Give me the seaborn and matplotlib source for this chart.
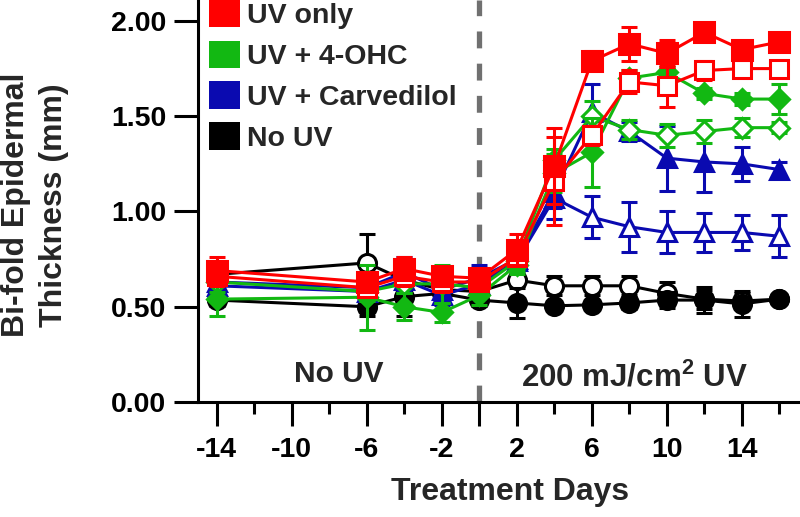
import matplotlib
matplotlib.use("Agg")
import matplotlib.pyplot as plt
import seaborn as sns
from matplotlib.patches import Patch

# Data (mean +/- error)
days = [-14, -6, -4, -2, 0, 2, 4, 6, 8, 10, 12, 14, 16]

uv_only = [0.69, 0.63, 0.70, 0.66, 0.65, 0.80, 1.24, 1.79, 1.88, 1.83, 1.94, 1.85, 1.89]
uv_only_err = [0.07, 0.05, 0.06, 0.05, 0.05, 0.08, 0.20, 0.05, 0.09, 0.07, 0.02, 0.03, 0.03]
uv_only_b = [0.66, 0.60, 0.66, 0.63, 0.63, 0.76, 1.16, 1.40, 1.68, 1.66, 1.74, 1.75, 1.75]
uv_only_b_err = [0.05, 0.05, 0.05, 0.05, 0.04, 0.04, 0.23, 0.05, 0.06, 0.11, 0.05, 0.04, 0.04]

ohc = [0.54, 0.55, 0.50, 0.47, 0.56, 0.72, 1.20, 1.31, 1.70, 1.73, 1.62, 1.59, 1.59]
ohc_err = [0.09, 0.17, 0.07, 0.05, 0.05, 0.05, 0.10, 0.18, 0.04, 0.03, 0.03, 0.03, 0.08]
ohc_b = [0.63, 0.58, 0.62, 0.62, 0.60, 0.74, 1.27, 1.50, 1.43, 1.40, 1.42, 1.44, 1.44]
ohc_b_err = [0.05, 0.05, 0.05, 0.10, 0.05, 0.05, 0.06, 0.08, 0.05, 0.06, 0.06, 0.05, 0.03]

carv = [0.63, 0.60, 0.68, 0.59, 0.65, 0.75, 1.10, 1.52, 1.42, 1.28, 1.26, 1.25, 1.22]
carv_err = [0.04, 0.05, 0.08, 0.06, 0.07, 0.05, 0.08, 0.15, 0.05, 0.17, 0.16, 0.09, 0.04]
carv_b = [0.61, 0.58, 0.64, 0.56, 0.62, 0.74, 1.07, 0.97, 0.92, 0.89, 0.89, 0.89, 0.87]
carv_b_err = [0.04, 0.04, 0.05, 0.05, 0.05, 0.05, 0.11, 0.11, 0.13, 0.11, 0.10, 0.09, 0.11]

no_uv = [0.535, 0.50, 0.553, 0.57, 0.535, 0.52, 0.505, 0.51, 0.52, 0.535, 0.535, 0.515, 0.54]
no_uv_err = [0.03, 0.05, 0.10, 0.04, 0.03, 0.08, 0.02, 0.02, 0.03, 0.04, 0.07, 0.07, 0.02]
no_uv_b = [0.67, 0.73, 0.64, 0.59, 0.58, 0.64, 0.61, 0.61, 0.61, 0.57, 0.54, 0.53, 0.54]
no_uv_b_err = [0.03, 0.15, 0.05, 0.04, 0.04, 0.03, 0.05, 0.05, 0.05, 0.06, 0.05, 0.04, 0.02]

legend_labels = ["UV only", "UV + 4-OHC", "UV + Carvedilol", "No UV"]
RED, GREEN, BLUE, BLACK = "#ff0000", "#12b812", "#0a0ab0", "#000000"

sns.set_theme(style="ticks")
plt.rcParams["font.family"] = ["Liberation Sans", "DejaVu Sans"]
plt.rcParams["font.weight"] = "bold"
plt.rcParams["mathtext.fontset"] = "custom"
plt.rcParams["mathtext.rm"] = "Liberation Sans:bold"
plt.rcParams["mathtext.bf"] = "Liberation Sans:bold"

fig = plt.figure(figsize=(8, 5.17), dpi=100)
ax = fig.add_axes([0.2475, 0.2224, 0.7525, 0.7776])

# vertical divider at day 0
ax.axvline(0, color="#707070", lw=3.8, linestyle=(0, (3.2, 2.9)), zorder=1)

# (values, errors, color, marker, filled, marker size)
series = [
    (no_uv_b, no_uv_b_err, BLACK, "o", False, 13),
    (no_uv, no_uv_err, BLACK, "o", True, 13),
    (carv_b, carv_b_err, BLUE, "^", False, 13),
    (carv, carv_err, BLUE, "^", True, 13),
    (ohc_b, ohc_b_err, GREEN, "D", False, 10.5),
    (ohc, ohc_err, GREEN, "D", True, 10.5),
    (uv_only_b, uv_only_b_err, RED, "s", False, 13),
    (uv_only, uv_only_err, RED, "s", True, 14),
]

z = 2
for vals, err, col, mk, filled, ms in series:
    ax.errorbar(days, vals, yerr=err, fmt="none", ecolor=col, elinewidth=2.2,
                capsize=6, capthick=2.2, zorder=z)
    sns.lineplot(x=days, y=vals, ax=ax, color=col, lw=2.2, marker=mk,
                 markersize=ms, markerfacecolor=col if filled else "white",
                 markeredgecolor=col, markeredgewidth=2.2, legend=False, zorder=z + 1)
    z += 2

ax.set_xlim(-15, 17.1)
ax.set_ylim(0, 2.11)
ax.set_yticks([0, 0.5, 1.0, 1.5, 2.0])
ax.set_yticklabels(["0.00", "0.50", "1.00", "1.50", "2.00"])
ax.set_xticks([-14, -10, -6, -2, 0, 2, 6, 10, 14])
ax.set_xticklabels(["-14", "-10", "-6", "-2", "", "2", "6", "10", "14"])
ax.set_xticks([-12, -8, -4, 4, 8, 12, 16], minor=True)

ax.tick_params(axis="both", which="major", length=17, width=2.2, labelsize=20.5,
               color="black", labelcolor="black")
ax.tick_params(axis="x", which="major", pad=8)
ax.tick_params(axis="y", which="major", pad=6)
ax.tick_params(axis="x", which="minor", length=8.5, width=2.2, color="black")
for lab in ax.get_xticklabels() + ax.get_yticklabels():
    lab.set_fontweight("bold")

for side in ["top", "right"]:
    ax.spines[side].set_visible(False)
for side in ["left", "bottom"]:
    ax.spines[side].set_linewidth(2.2)
    ax.spines[side].set_color("black")

ax.set_xlabel("Treatment Days", fontsize=23, fontweight="bold")
ax.xaxis.set_label_coords(0.518, -0.225)
ax.xaxis.label.set_va("center")
ax.set_ylabel("Bi-fold Epidermal\nThickness (mm)", fontsize=23, fontweight="bold",
              linespacing=1.35)
ax.yaxis.set_label_coords(-0.27, 0.49)
ax.yaxis.label.set_va("center")

ax.text(-7.5, 0.105, "No UV", fontsize=21.5, fontweight="bold", ha="center", va="baseline")
ax.text(8.3, 0.079, r"200 mJ/cm$^{\mathbf{2}}$ UV", fontsize=22.5, fontweight="bold",
        ha="center", va="baseline")

handles = [Patch(facecolor=c, edgecolor="none") for c in [RED, GREEN, BLUE, BLACK]]
fig.legend(handles, legend_labels, loc="upper left", bbox_to_anchor=(209 / 800, 1.0),
           frameon=False, prop={"weight": "bold", "size": 20.5}, borderpad=0,
           borderaxespad=0, handlelength=1.1, handleheight=1.1,
           handletextpad=0.25, labelspacing=0.4)

fig.savefig("out.png", dpi=100)
